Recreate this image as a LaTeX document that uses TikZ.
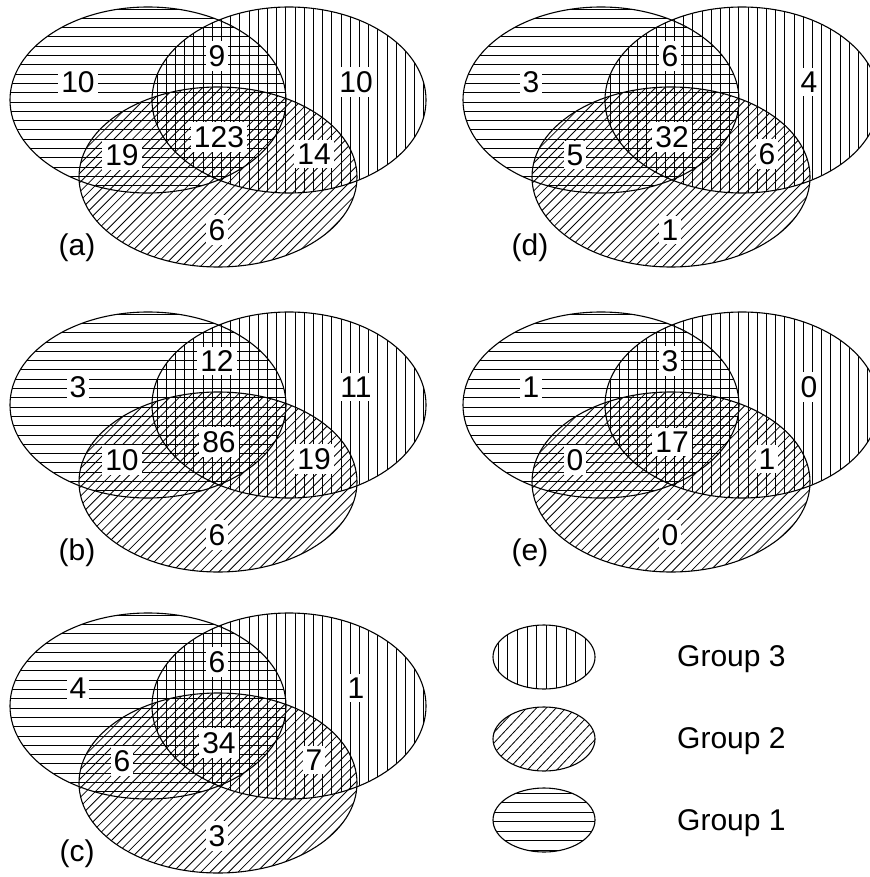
\documentclass[tikz,border=0pt]{standalone}
\usepackage{fontspec}
\setmainfont{Liberation Sans}
\tikzset{
	hatchline/.style={line width=0.8pt},
	outline/.style ={draw=black, line width=1.1pt},
	% region counts and captions
	count/.style={fill=white, inner xsep=3pt, inner ysep=4pt, font=\fontsize{30}{32}\selectfont},
	tag/.style={inner sep=0pt, font=\fontsize{30}{32}\selectfont},
}

\begin{document}
\begin{tikzpicture}[x=1pt, y=-1pt]
	\useasboundingbox (0,0) rectangle (869,877);
	\foreach \p/\dx/\dy/\na/\nb/\nc/\nd/\ne/\nf/\ng in {
			a/0/0/10/9/10/123/19/14/6,
			b/0/305/3/12/11/86/10/19/6,
			c/0/606/4/6/1/34/6/7/3,
			d/453/0/3/6/4/32/5/6/1,
			e/453/305/1/3/0/17/0/1/0}{
		\begin{scope}[shift={(\dx,\dy)}]
			\begin{scope}
				\clip (148,100) ellipse [x radius=138, y radius=93];
				\foreach \k in {0,...,20} \draw[hatchline] (0,{9+\k*9.3}) -- (300,{9+\k*9.3});
			\end{scope}
			\begin{scope}
				\clip (289,100) ellipse [x radius=137, y radius=93];
				\foreach \k in {0,...,30} \draw[hatchline] ({157+\k*9.2},0) -- ({157+\k*9.2},200);
			\end{scope}
			\begin{scope}
				\clip (218,177) ellipse [x radius=139, y radius=90];
				\foreach \k in {0,...,50} \draw[hatchline] ({-110+\k*9.3},270) -- ({80+\k*9.3},80);
			\end{scope}
			\draw[outline] (148,100) ellipse [x radius=138, y radius=93];
			\draw[outline] (289,100) ellipse [x radius=137, y radius=93];
			\draw[outline] (218,177) ellipse [x radius=139, y radius=90];
			\node[count] (\p-one) at (78,82) {\na};
			\node[count] (\p-onethree) at (217,56) {\nb};
			\node[count] (\p-three) at (356,82) {\nc};
			\node[count] (\p-all) at (219,137) {\nd};
			\node[count] (\p-onetwo) at (122,155) {\ne};
			\node[count] (\p-twothree) at (314,154) {\nf};
			\node[count] (\p-two) at (217,230) {\ng};
			\node[tag] (\p-tag) at (77,248) {(\p)};
		\end{scope}
	}
	% key
	\begin{scope}
		\clip (544,657) ellipse [x radius=51, y radius=32];
		\foreach \k in {0,...,10} \draw[hatchline] ({498+\k*9.7},620) -- ({498+\k*9.7},695);
	\end{scope}
	\begin{scope}
		\clip (544,739) ellipse [x radius=51, y radius=32];
		\foreach \k in {0,...,20} \draw[hatchline] ({420+\k*9.8},780) -- ({495+\k*9.8},700);
	\end{scope}
	\begin{scope}
		\clip (544,820) ellipse [x radius=51, y radius=32];
		\foreach \k in {0,...,7} \draw[hatchline] (490,{793+\k*9.5}) -- (600,{793+\k*9.5});
	\end{scope}
	\draw[outline] (544,657) ellipse [x radius=51, y radius=32];
	\draw[outline] (544,739) ellipse [x radius=51, y radius=32];
	\draw[outline] (544,820) ellipse [x radius=51, y radius=32];
	\node[tag, anchor=base west] (key-three) at (677,666) {Group 3};
	\node[tag, anchor=base west] (key-two) at (677,748) {Group 2};
	\node[tag, anchor=base west] (key-one) at (677,830) {Group 1};
\end{tikzpicture}
\end{document}
